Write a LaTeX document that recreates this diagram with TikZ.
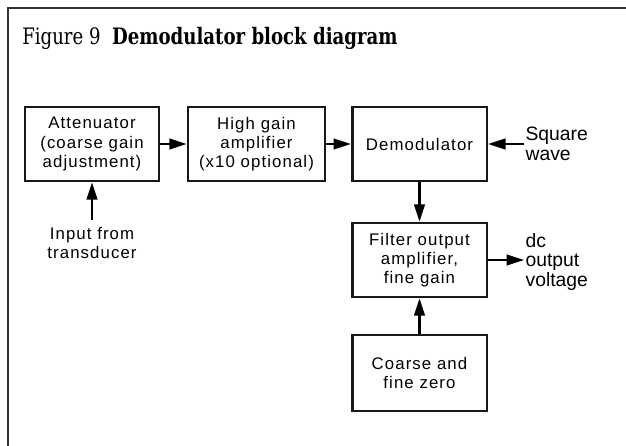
\documentclass[tikz,border=0pt]{standalone}
\usepackage{fontspec}
\setmainfont{Liberation Sans}
\newfontfamily\titlefont[FakeStretch=0.8]{DejaVu Serif}
\newfontfamily\boxfont[LetterSpace=6.5]{Liberation Sans}
\usetikzlibrary{arrows.meta, positioning}
\tikzset{
  block/.style = {rectangle, draw=black!90, line width=2pt,
                  minimum width=101pt, minimum height=55.5pt,
                  align=center, inner sep=2pt,
                  font=\boxfont\fontsize{12.6}{14.4}\selectfont},
  srctext/.style = {align=center, inner xsep=2pt, inner ysep=5pt,
                  font=\boxfont\fontsize{12.6}{14.4}\selectfont},
  note/.style  = {align=left, inner sep=1pt,
                  font=\fontsize{14.5}{14.5}\selectfont},
  arr/.style   = {-{Triangle[length=13pt,width=8pt]}, line width=1.6pt},
  frame/.style = {line width=2.2pt, black!80},
}

\begin{document}
\begin{tikzpicture}[x=0.75pt, y=-0.75pt]
  \useasboundingbox (0,0) rectangle (626,446);
  \draw[frame] (8,446) -- (8,8) -- (626,8);

  \node[anchor=base west, inner sep=0pt, font=\titlefont\fontsize{17}{19}\selectfont]
    (title) at (22,44.5) {Figure 9\ \ \textbf{Demodulator block diagram}};

  % top row
  \node[block, minimum width=100.5pt] (att) at (92,144) {Attenuator\\(coarse gain\\adjustment)};
  \node[block, minimum width=102.75pt] (amp) at (256.5,144) {High gain\\amplifier\\(x10 optional)};
  \node[block] (demod) at (419.5,144) {Demodulator};
  % right column
  \node[block] (filt) at (419.5,260) {Filter output\\amplifier,\\fine gain};
  \node[block, minimum height=57pt] (zero) at (419.5,373) {Coarse and\\fine zero};

  \node[srctext, anchor=north] (input) at (92,220) {Input from\\transducer};
  \node[note, anchor=west] (sq) at (524,144) {Square\\wave};
  \node[note, anchor=west] (dc) at (524,262) {dc\\output\\voltage};

  \draw[arr] (att) -- (amp);
  \draw[arr] (amp) -- (demod);
  \draw[arr] (input) -- (att);
  \draw[arr] (sq.west |- demod.east) -- (demod.east);
  \draw[arr] (demod) -- (filt);
  \draw[arr] (zero) -- (filt);
  \draw[arr] (filt.east) -- (filt.east -| dc.west);
\end{tikzpicture}
\end{document}
